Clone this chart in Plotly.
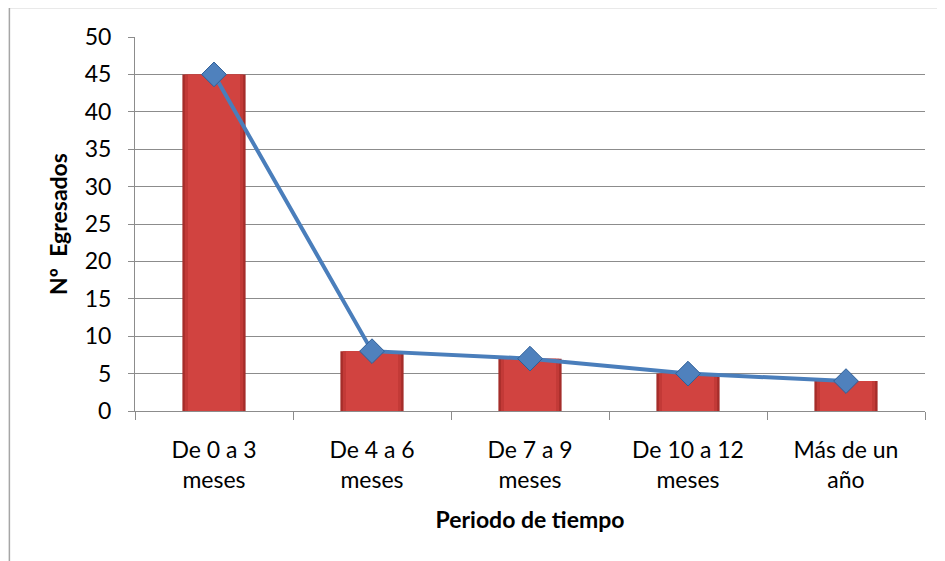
import plotly.graph_objects as go

periodos = ["De 0 a 3<br>meses", "De 4 a 6<br>meses", "De 7 a 9<br>meses",
            "De 10 a 12<br>meses", "Más de un<br>año"]
egresados = [45, 8, 7, 5, 4]

GRID = "#8c8c8c"
FONT = "Lato, 'Open Sans', sans-serif"

fig = go.Figure()

# shaded bars: stacked widths give the bevelled look of the original
for w, col in [(0.40, "#a52d2a"), (0.37, "#c23a37"), (0.33, "#d14340")]:
    fig.add_trace(go.Bar(x=periodos, y=egresados, width=w, marker_color=col,
                         marker_line_width=0, showlegend=False, hoverinfo="skip"))

fig.add_trace(go.Scatter(
    x=periodos, y=egresados, mode="lines+markers",
    line=dict(color="#4a7ebb", width=4),
    marker=dict(symbol="diamond", size=19, color="#4f81bd",
                line=dict(color="#2f5f98", width=1)),
    showlegend=False,
))

fig.update_layout(
    width=945, height=561,
    margin=dict(l=127, r=28, t=29, b=158),
    barmode="overlay",
    plot_bgcolor="white",
    paper_bgcolor="white",
    font=dict(family=FONT, size=24, color="#000000"),
    xaxis=dict(
        showline=True, linecolor=GRID, linewidth=1,
        ticks="outside", tickson="boundaries", ticklen=8, tickcolor=GRID,
        title=dict(text="<b>Periodo de tiempo</b>", standoff=20,
                   font=dict(size=23)),
        tickfont=dict(size=23),
        ticklabelstandoff=18,
    ),
    yaxis=dict(
        range=[0, 50], dtick=5,
        showgrid=True, gridcolor=GRID, gridwidth=1,
        showline=True, linecolor=GRID, linewidth=1,
        ticks="outside", ticklen=6, tickcolor=GRID,
        zeroline=False,
        title=dict(text="<b>Nº  Egresados</b>", standoff=10,
                   font=dict(size=23)),
        tickfont=dict(size=23),
        ticklabelstandoff=12,
    ),
    shapes=[dict(type="rect", xref="paper", yref="paper",
                 x0=-0.159, x1=1.05, y0=-0.6, y1=1.079,
                 line=dict(color="#a6a6a6", width=1.5), layer="below")],
)

fig.write_html("out.html")
